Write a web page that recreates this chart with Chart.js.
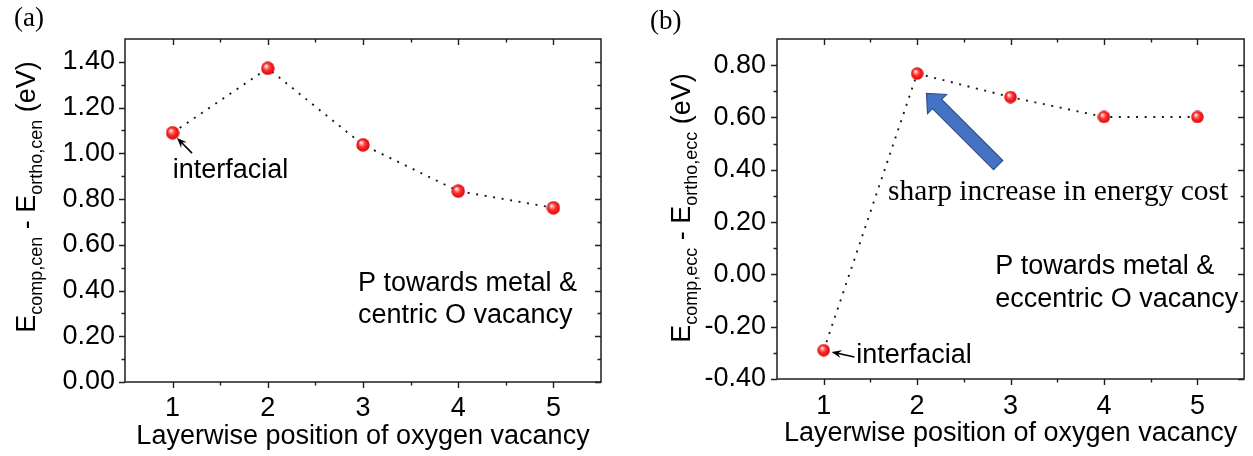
<!DOCTYPE html>
<html>
<head>
<meta charset="utf-8">
<script src="https://cdn.jsdelivr.net/npm/chart.js@4.4.1/dist/chart.umd.min.js"></script>
<style>
  html, body { margin: 0; padding: 0; background: #ffffff; }
  #wrap { position: relative; width: 1253px; height: 456px; overflow: hidden; }
  #wrap canvas { position: absolute; left: 0; top: 0; }
</style>
</head>
<body>
<div id="wrap">
  <canvas id="chartA" width="1253" height="456"></canvas>
  <canvas id="chartB" width="1253" height="456"></canvas>
</div>
<script>
// ---- data ----
const layerPositions = [1, 2, 3, 4, 5];
const energyCentric = [1.09, 1.372, 1.037, 0.835, 0.762];     // E_comp,cen - E_ortho,cen (eV)
const energyEccentric = [-0.29, 0.768, 0.678, 0.602, 0.602];   // E_comp,ecc - E_ortho,ecc (eV)
const xTickValues = [1, 2, 3, 4, 5];
const yTickValuesA = [0, 0.2, 0.4, 0.6, 0.8, 1.0, 1.2, 1.4];
const yTickValuesB = [-0.4, -0.2, 0, 0.2, 0.4, 0.6, 0.8];
const xTitle = 'Layerwise position of oxygen vacancy';

const SANS = "'Liberation Sans', Arial, Helvetica, sans-serif";
const SERIF = "'Liberation Serif', 'Times New Roman', serif";

// glossy red ball used as point marker
function makeSphere(d) {
  const c = document.createElement('canvas');
  c.width = d; c.height = d;
  const g = c.getContext('2d');
  const r = d / 2;
  const grad = g.createRadialGradient(r * 0.72, r * 0.66, r * 0.05, r, r, r);
  grad.addColorStop(0, '#ffffff');
  grad.addColorStop(0.2, '#ff9a9a');
  grad.addColorStop(0.45, '#ff3434');
  grad.addColorStop(1, '#d80000');
  g.fillStyle = grad;
  g.beginPath();
  g.arc(r, r, r - 0.3, 0, Math.PI * 2);
  g.fill();
  return c;
}

// boxed frame with Origin-style ticks (bottom/left outward, top/right inward)
const framePlugin = {
  id: 'frame',
  beforeDatasetsDraw(chart) {
    const { ctx, chartArea: a, scales: { x, y } } = chart;
    const MAJ = 6, MIN = 3.5;
    ctx.save();
    ctx.strokeStyle = '#1e1e1e';
    ctx.lineWidth = 1.5;
    ctx.strokeRect(a.left, a.top, a.right - a.left, a.bottom - a.top);
    ctx.lineWidth = 1.4;
    ctx.beginPath();
    const xs = x.ticks.map(t => t.value);
    const xStep = xs[1] - xs[0];
    const xMinor = xs.map(v => v + xStep / 2).concat([xs[0] - xStep / 2]);
    xs.forEach(v => {
      const px = Math.round(x.getPixelForValue(v)) + 0.5;
      ctx.moveTo(px, a.bottom); ctx.lineTo(px, a.bottom + MAJ);
      ctx.moveTo(px, a.top); ctx.lineTo(px, a.top + MAJ);
    });
    xMinor.forEach(v => {
      if (v <= x.min || v >= x.max) return;
      const px = Math.round(x.getPixelForValue(v)) + 0.5;
      ctx.moveTo(px, a.bottom); ctx.lineTo(px, a.bottom + MIN);
      ctx.moveTo(px, a.top); ctx.lineTo(px, a.top + MIN);
    });
    const ys = y.ticks.map(t => t.value);
    const yStep = ys[1] - ys[0];
    const yMinor = ys.map(v => v + yStep / 2);
    ys.forEach(v => {
      const py = Math.round(y.getPixelForValue(v)) + 0.5;
      ctx.moveTo(a.left, py); ctx.lineTo(a.left - MAJ, py);
      ctx.moveTo(a.right, py); ctx.lineTo(a.right - MAJ, py);
    });
    yMinor.forEach(v => {
      if (v <= y.min + 1e-9 || v >= y.max - 1e-9) return;
      const py = Math.round(y.getPixelForValue(v)) + 0.5;
      ctx.moveTo(a.left, py); ctx.lineTo(a.left - MIN, py);
      ctx.moveTo(a.right, py); ctx.lineTo(a.right - MIN, py);
    });
    ctx.stroke();
    ctx.restore();
  }
};

function drawPointer(ctx, x1, y1, x2, y2) {
  const a = Math.atan2(y2 - y1, x2 - x1);
  const head = 10, w = 4;
  const c = Math.cos(a), s = Math.sin(a);
  ctx.strokeStyle = '#000';
  ctx.fillStyle = '#000';
  ctx.lineWidth = 1.6;
  ctx.beginPath();
  ctx.moveTo(x1, y1);
  ctx.lineTo(x2 - c * head * 0.6, y2 - s * head * 0.6);
  ctx.stroke();
  ctx.beginPath();
  ctx.moveTo(x2, y2);
  ctx.lineTo(x2 - head * c + w * s, y2 - head * s - w * c);
  ctx.lineTo(x2 - head * 0.65 * c, y2 - head * 0.65 * s);
  ctx.lineTo(x2 - head * c - w * s, y2 - head * s + w * c);
  ctx.closePath();
  ctx.fill();
}

function drawBlockArrow(ctx, x1, y1, x2, y2) {
  const len = Math.hypot(x2 - x1, y2 - y1);
  const ux = (x2 - x1) / len, uy = (y2 - y1) / len;
  const nx = -uy, ny = ux;
  const sw = 6.5, hw = 13.5, hl = 15;
  const bx = x2 - ux * hl, by = y2 - uy * hl;
  ctx.beginPath();
  ctx.moveTo(x1 + nx * sw, y1 + ny * sw);
  ctx.lineTo(bx + nx * sw, by + ny * sw);
  ctx.lineTo(bx + nx * hw, by + ny * hw);
  ctx.lineTo(x2, y2);
  ctx.lineTo(bx - nx * hw, by - ny * hw);
  ctx.lineTo(bx - nx * sw, by - ny * sw);
  ctx.lineTo(x1 - nx * sw, y1 - ny * sw);
  ctx.closePath();
  ctx.fillStyle = '#4472c4';
  ctx.fill();
  ctx.strokeStyle = '#2f528f';
  ctx.lineWidth = 1.2;
  ctx.stroke();
}

// y-axis title with subscripts, panel letter, text notes and arrows
const notesPlugin = {
  id: 'notes',
  afterDatasetsDraw(chart, args, opts) {
    const { ctx, scales: { x, y } } = chart;
    const P = (vx, vy) => [x.getPixelForValue(vx), y.getPixelForValue(vy)];
    ctx.save();

    // panel letter
    ctx.font = '27px ' + SERIF;
    ctx.fillStyle = '#000';
    ctx.textBaseline = 'alphabetic';
    ctx.textAlign = 'left';
    ctx.fillText(opts.panel.text, opts.panel.x, opts.panel.y);

    // rotated y title
    const yt = opts.yTitle;
    const mainFont = '27px ' + SANS, subFont = '18px ' + SANS;
    let total = 0;
    yt.parts.forEach(p => { ctx.font = p.sub ? subFont : mainFont; total += ctx.measureText(p.t).width; });
    ctx.translate(yt.x, yt.cy);
    ctx.rotate(-Math.PI / 2);
    let cx = -total / 2;
    yt.parts.forEach(p => {
      ctx.font = p.sub ? subFont : mainFont;
      ctx.fillText(p.t, cx, p.sub ? 7 : 0);
      cx += ctx.measureText(p.t).width;
    });
    ctx.setTransform(1, 0, 0, 1, 0, 0);

    // arrows
    (opts.pointers || []).forEach(ar => {
      const [tx, ty] = P(ar.from[0], ar.from[1]);
      const [hx, hy] = P(ar.to[0], ar.to[1]);
      drawPointer(ctx, tx, ty, hx, hy);
    });
    if (opts.block) {
      const [tx, ty] = P(opts.block.from[0], opts.block.from[1]);
      const [hx, hy] = P(opts.block.to[0], opts.block.to[1]);
      drawBlockArrow(ctx, tx, ty, hx, hy);
    }

    // text notes
    (opts.texts || []).forEach(tn => {
      const [px, py] = P(tn.at[0], tn.at[1]);
      ctx.font = tn.font;
      ctx.fillStyle = '#000';
      ctx.textAlign = 'left';
      ctx.textBaseline = 'alphabetic';
      ctx.fillText(tn.text, px, py);
    });
    ctx.restore();
  }
};

function buildChart(id, values, yMin, yMax, yTicks, cfg) {
  const tickFont = { family: SANS, size: 27 };
  return new Chart(document.getElementById(id), {
    type: 'line',
    data: {
      datasets: [{
        data: layerPositions.map((v, i) => ({ x: v, y: values[i] })),
        borderColor: '#1a1a1a',
        borderWidth: 1.9,
        borderDash: [2, 6.6],
        pointStyle: makeSphere(cfg.ball),
        pointRadius: 7,
        pointHoverRadius: 7,
        tension: 0,
        fill: false
      }]
    },
    options: {
      responsive: false,
      animation: false,
      devicePixelRatio: 1,
      events: [],
      layout: { padding: { left: cfg.padLeft, top: 39, right: cfg.padRight, bottom: 0 } },
      plugins: {
        legend: { display: false },
        tooltip: { enabled: false },
        notes: cfg.notes
      },
      scales: {
        x: {
          type: 'linear', min: 0.5, max: 5.5,
          grid: { display: false, drawTicks: false },
          border: { display: false },
          afterBuildTicks: s => { s.ticks = xTickValues.map(v => ({ value: v })); },
          afterFit: s => { s.height = cfg.xHeight; },
          ticks: { padding: cfg.xTickPad, color: '#000', font: tickFont, maxRotation: 0, callback: v => String(v) },
          title: { display: true, text: xTitle, color: '#000', font: { family: SANS, size: 27, lineHeight: 1.2 },
                   padding: { top: 0, bottom: cfg.titlePad } }
        },
        y: {
          type: 'linear', min: yMin, max: yMax,
          grid: { display: false, drawTicks: false },
          border: { display: false },
          afterBuildTicks: s => { s.ticks = yTicks.map(v => ({ value: v })); },
          afterFit: s => { s.width = cfg.yWidth; },
          ticks: { padding: cfg.yTickPad, color: '#000', font: tickFont, callback: v => v.toFixed(2) }
        }
      }
    },
    plugins: [framePlugin, notesPlugin]
  });
}

buildChart('chartA', energyCentric, 0, 1.5, yTickValuesA, {
  padLeft: 0, padRight: 652, yWidth: 125, xHeight: 74, xTickPad: 10, yTickPad: 10, titlePad: 3.5, ball: 14,
  notes: {
    panel: { text: '(a)', x: 14, y: 26 },
    yTitle: { x: 35, cy: 197, parts: [
      { t: 'E' }, { t: 'comp,cen', sub: true }, { t: ' - E' }, { t: 'ortho,cen', sub: true }, { t: ' (eV)' }] },
    pointers: [{ from: [1.204, 1.001], to: [1.046, 1.067] }],
    texts: [
      { text: 'interfacial', at: [1.001, 0.892], font: '27px ' + SANS },
      { text: 'P towards metal &', at: [2.947, 0.398], font: '27px ' + SANS },
      { text: 'centric O vacancy', at: [2.947, 0.258], font: '27px ' + SANS }
    ]
  }
});

buildChart('chartB', energyEccentric, -0.4, 0.9, yTickValuesB, {
  padLeft: 650, padRight: 5, yWidth: 127, xHeight: 77, xTickPad: 11, yTickPad: 11, titlePad: 6, ball: 13,
  notes: {
    panel: { text: '(b)', x: 650, y: 29 },
    yTitle: { x: 690, cy: 208, parts: [
      { t: 'E' }, { t: 'comp,ecc', sub: true }, { t: ' - E' }, { t: 'ortho,ecc', sub: true }, { t: ' (eV)' }] },
    pointers: [{ from: [1.328, -0.316], to: [1.084, -0.297] }],
    block: { from: [2.867, 0.418], to: [2.10, 0.692] },
    texts: [
      { text: 'interfacial', at: [1.349, -0.339], font: '27px ' + SANS },
      { text: 'sharp increase in energy cost', at: [1.689, 0.284], font: '29.5px ' + SERIF },
      { text: 'P towards metal &', at: [2.835, 0.001], font: '27px ' + SANS },
      { text: 'eccentric O vacancy', at: [2.835, -0.125], font: '27px ' + SANS }
    ]
  }
});
</script>
</body>
</html>
